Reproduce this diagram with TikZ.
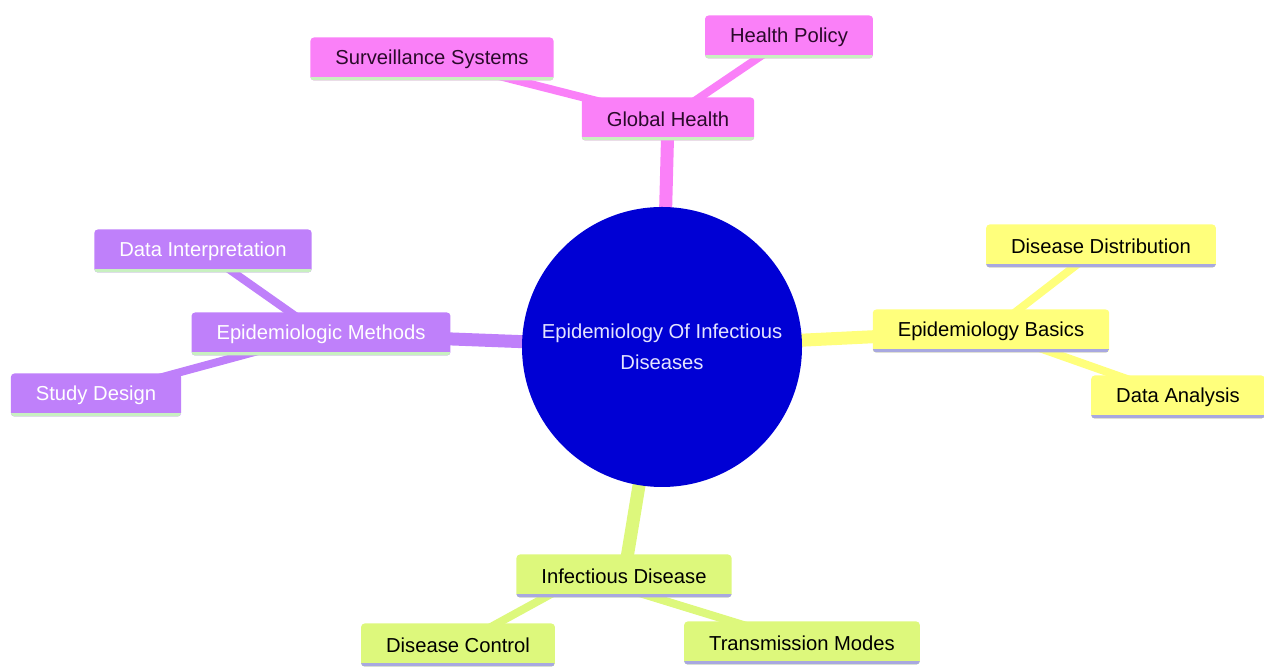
\documentclass[tikz,border=0pt]{standalone}
\usepackage{fontspec}
\setmainfont{Liberation Sans}
\usetikzlibrary{positioning}
\definecolor{mmroot}{HTML}{0000D4}
\definecolor{mmpink}{HTML}{FA80F8}
\definecolor{mmpurple}{HTML}{BF80FA}
\definecolor{mmyellow}{HTML}{FFFF7C}
\definecolor{mmlime}{HTML}{DDF87C}
\definecolor{mmgreenline}{HTML}{C8F0C0}
\definecolor{mmblueline}{HTML}{A8A8E0}
\definecolor{mmroottext}{HTML}{E4E4FF}
\definecolor{mmpinktext}{HTML}{2A0A2A}
\pgfdeclarelayer{edges}
\pgfsetlayers{edges,main}

\begin{document}
\begin{tikzpicture}[
    mmbox/.style={
        rectangle,
        rounded corners=2pt,
        minimum height=0.86cm,
        inner xsep=0.5cm,
        font=\fontsize{11.5}{14}\selectfont,
        fill=#1
    },
    underline/.style={
        path picture={
            \draw[#1, line width=0.12cm]
                (path picture bounding box.south west) --
                (path picture bounding box.south east);
        }
    },
    pinkbox/.style={mmbox=mmpink, underline=mmgreenline, text=mmpinktext},
    purplebox/.style={mmbox=mmpurple, underline=mmgreenline, text=white},
    yellowbox/.style={mmbox=mmyellow, underline=mmblueline, text=black},
    limebox/.style={mmbox=mmlime, underline=mmblueline, text=black},
    mainedge/.style={line width=0.26cm, #1},
    subedge/.style={line width=0.16cm, #1}
]

\useasboundingbox (0,0) rectangle (25.28,13.4);

% Root
\node[circle, fill=mmroot, minimum size=5.6cm, inner sep=0pt,
      text=mmroottext, align=center, font=\fontsize{11.5}{17.6}\selectfont]
      (root) at (13.24,6.46) {Epidemiology Of Infectious\\Diseases};

% Main branches
\node[pinkbox] (global) at (13.36,11.02) {Global Health};
\node[purplebox] (methods) at (6.42,6.72) {Epidemiologic Methods};
\node[yellowbox] (basics) at (19.82,6.78) {Epidemiology Basics};
\node[limebox] (infect) at (12.48,1.88) {Infectious Disease};

% Leaves
\node[pinkbox] (surv) at (8.64,12.22) {Surveillance Systems};
\node[pinkbox] (policy) at (15.78,12.66) {Health Policy};
\node[purplebox] (interp) at (4.06,8.38) {Data Interpretation};
\node[purplebox] (design) at (1.92,5.50) {Study Design};
\node[yellowbox] (distrib) at (22.02,8.48) {Disease Distribution};
\node[yellowbox] (analysis) at (23.56,5.46) {Data Analysis};
\node[limebox] (control) at (9.16,0.50) {Disease Control};
\node[limebox] (trans) at (16.04,0.54) {Transmission Modes};

% Edges, behind the nodes
\begin{pgfonlayer}{edges}
\draw[mainedge=mmpink] (root.center) -- (global.center);
\draw[mainedge=mmpurple] (root.center) -- (methods.center);
\draw[mainedge=mmyellow] (root.center) -- (basics.center);
\draw[mainedge=mmlime] (root.center) -- (infect.center);
\draw[subedge=mmpink] (global.center) -- (surv.center);
\draw[subedge=mmpink] (global.center) -- (policy.center);
\draw[subedge=mmpurple] (methods.center) -- (interp.center);
\draw[subedge=mmpurple] (methods.center) -- (design.center);
\draw[subedge=mmyellow] (basics.center) -- (distrib.center);
\draw[subedge=mmyellow] (basics.center) -- (analysis.center);
\draw[subedge=mmlime] ([xshift=-0.8cm]infect.center) -- (control.center);
\draw[subedge=mmlime] ([xshift=-0.8cm]infect.center) -- (trans.center);
\end{pgfonlayer}

\end{tikzpicture}
\end{document}
